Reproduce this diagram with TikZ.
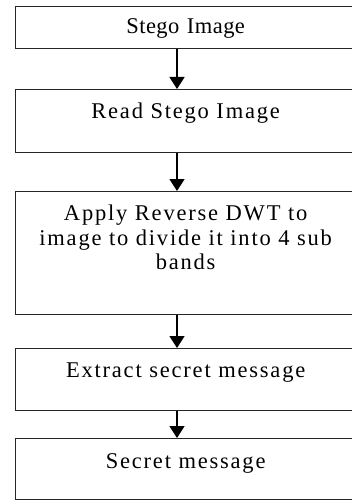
\documentclass[tikz,border=0pt]{standalone}
\usepackage{fontspec}
\setmainfont{Liberation Serif}[LetterSpace=8]
\usepackage{tikz}
\usetikzlibrary{arrows.meta}

\begin{document}
\begin{tikzpicture}[x=1pt,y=-1pt,font=\fontsize{22.5}{24.5}\selectfont,
    stepbox/.style={draw=black!85,line width=1.3pt,anchor=north west,inner sep=0pt,
      minimum width=340pt,text width=330pt,align=center},
    flow/.style={line width=1.6pt,-{Triangle[width=15pt,length=12pt]}}]
  \useasboundingbox (0,0) rectangle (352,500);
  \coordinate (ax) at (177,0);
  \node[stepbox,text height=27pt,text depth=15pt] (img) at (15,6)
    {\addfontfeature{LetterSpace=2}Stego Image};
  \node[stepbox,text height=29pt,text depth=34pt] (read) at (15,89) {Read Stego Image};
  \node[stepbox,text height=29pt,text depth=94pt] (dwt) at (15,191)
    {Apply Reverse DWT to\\ image to divide it into 4 sub\\ bands};
  \node[stepbox,text height=29pt,text depth=33pt] (extract) at (15,348) {Extract secret message};
  \node[stepbox,text height=30pt,text depth=31pt] (msg) at (15,438) {Secret message};
  \foreach \a/\b in {img/read,read/dwt,dwt/extract,extract/msg}{
    \draw[flow] (\a.south -| ax) -- (\b.north -| ax);}
\end{tikzpicture}
\end{document}
